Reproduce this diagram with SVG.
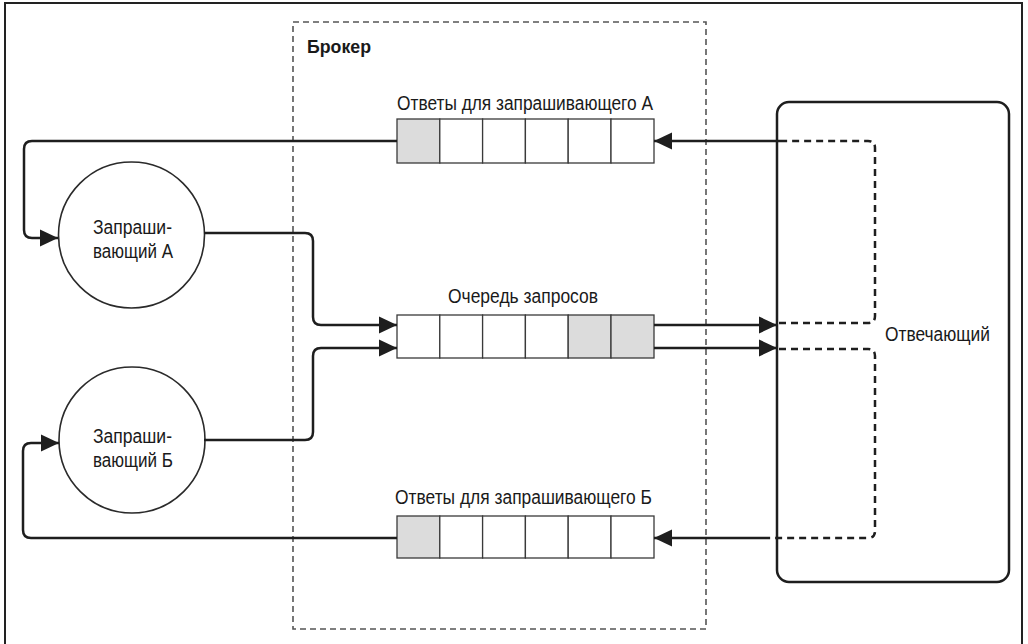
<svg xmlns="http://www.w3.org/2000/svg" width="1028" height="644" viewBox="0 0 1028 644">
<style>
.t{font-family:"Liberation Sans",Arial,sans-serif;font-size:19.5px;fill:#1a1a1a}
.b{font-weight:bold;font-size:18px}
.cell{fill:#fff;stroke:#3a3a3a;stroke-width:1.3}
.g{fill:#dcdcdc}
.ln{fill:none;stroke:#1e1e1e;stroke-width:2.5}
.dl{fill:none;stroke:#1e1e1e;stroke-width:2.5;stroke-dasharray:7 5}
.arr{marker-end:url(#ah)}
</style>
<defs>
<marker id="ah" viewBox="0 0 18 18" refX="18" refY="9" markerWidth="18" markerHeight="18" markerUnits="userSpaceOnUse" orient="auto">
<path d="M0,0.5 L18,9 L0,17.5 z" fill="#1e1e1e"/>
</marker>
</defs>
<rect x="0" y="0" width="1028" height="644" fill="#fff"/>
<rect x="5" y="3" width="1017" height="680" fill="none" stroke="#222" stroke-width="2"/>

<g id="broker">
<rect x="293" y="22" width="413" height="607" fill="none" stroke="#555" stroke-width="1.6" stroke-dasharray="6 4"/>
<text class="t b" x="307" y="53" textLength="64" lengthAdjust="spacingAndGlyphs">Брокер</text>
</g>

<g id="queue-a">
<text class="t" x="397" y="110" textLength="256" lengthAdjust="spacingAndGlyphs">Ответы для запрашивающего А</text>
<rect class="cell g" x="397" y="119" width="42.8" height="44"/>
<rect class="cell" x="439.8" y="119" width="42.8" height="44"/>
<rect class="cell" x="482.6" y="119" width="42.8" height="44"/>
<rect class="cell" x="525.4" y="119" width="42.8" height="44"/>
<rect class="cell" x="568.2" y="119" width="42.8" height="44"/>
<rect class="cell" x="611" y="119" width="43" height="44"/>
</g>

<g id="request-queue">
<text class="t" x="448" y="303" textLength="150" lengthAdjust="spacingAndGlyphs">Очередь запросов</text>
<rect class="cell" x="397" y="315" width="42.8" height="43"/>
<rect class="cell" x="439.8" y="315" width="42.8" height="43"/>
<rect class="cell" x="482.6" y="315" width="42.8" height="43"/>
<rect class="cell" x="525.4" y="315" width="42.8" height="43"/>
<rect class="cell g" x="568.2" y="315" width="42.8" height="43"/>
<rect class="cell g" x="611" y="315" width="43" height="43"/>
</g>

<g id="queue-b">
<text class="t" x="395" y="504" textLength="257" lengthAdjust="spacingAndGlyphs">Ответы для запрашивающего Б</text>
<rect class="cell g" x="397" y="516" width="42.8" height="42"/>
<rect class="cell" x="439.8" y="516" width="42.8" height="42"/>
<rect class="cell" x="482.6" y="516" width="42.8" height="42"/>
<rect class="cell" x="525.4" y="516" width="42.8" height="42"/>
<rect class="cell" x="568.2" y="516" width="42.8" height="42"/>
<rect class="cell" x="611" y="516" width="43" height="42"/>
</g>

<g id="requester-a">
<circle cx="131.5" cy="235" r="73" fill="#fff" stroke="#2a2a2a" stroke-width="1.6"/>
<text class="t" x="93" y="234" textLength="79" lengthAdjust="spacingAndGlyphs">Запраши-</text>
<text class="t" x="93" y="258" textLength="80" lengthAdjust="spacingAndGlyphs">вающий А</text>
</g>

<g id="requester-b">
<circle cx="132" cy="440" r="73" fill="#fff" stroke="#2a2a2a" stroke-width="1.6"/>
<text class="t" x="93" y="443" textLength="79" lengthAdjust="spacingAndGlyphs">Запраши-</text>
<text class="t" x="93" y="467" textLength="80" lengthAdjust="spacingAndGlyphs">вающий Б</text>
</g>

<g id="responder">
<rect x="777" y="102" width="232" height="480" rx="12" ry="12" fill="none" stroke="#1e1e1e" stroke-width="2.5"/>
<text class="t" x="885" y="341" textLength="105" lengthAdjust="spacingAndGlyphs">Отвечающий</text>
</g>

<g id="connectors">
<path class="ln arr" d="M397,141 H32 Q24,141 24,149 V230 Q24,238 32,238 H58"/>
<path class="ln arr" d="M204,233 H305 Q313,233 313,241 V317 Q313,325 321,325 H397"/>
<path class="ln arr" d="M204,440 H305 Q313,440 313,432 V356 Q313,348 321,348 H397"/>
<path class="ln arr" d="M397,538 H31 Q23,538 23,530 V451 Q23,443 31,443 H59"/>
<path class="ln arr" d="M654,325 H777"/>
<path class="ln arr" d="M654,348 H777"/>
<path class="dl" d="M779,323 H868 Q875,323 875,316 V148 Q875,141 868,141 H782"/>
<path class="ln arr" d="M782,141 H654"/>
<path class="dl" d="M779,349 H868 Q875,349 875,356 V531 Q875,538 868,538 H770"/>
<path class="ln arr" d="M770,538 H654"/>
</g>
</svg>
